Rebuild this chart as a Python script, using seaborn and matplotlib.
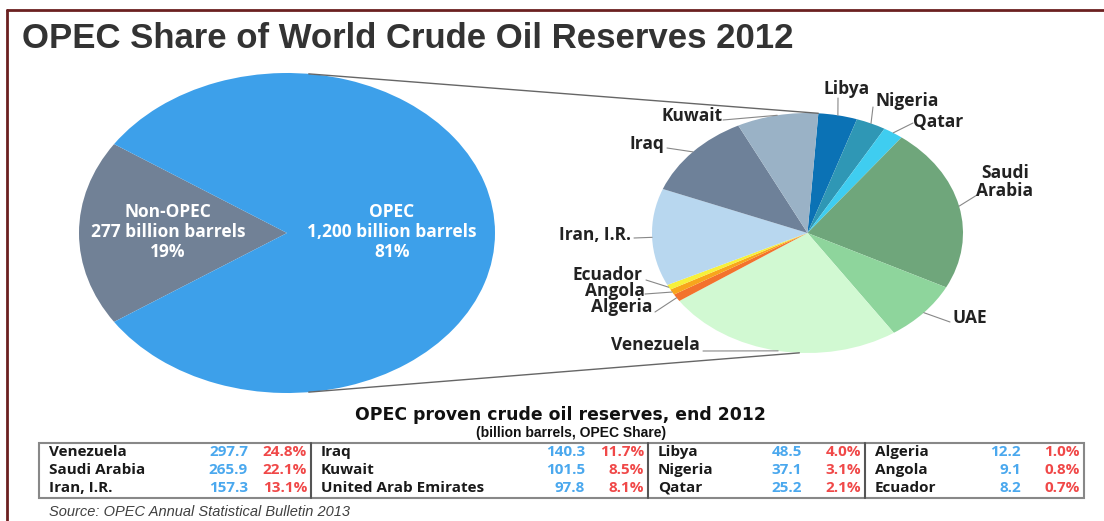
import matplotlib
matplotlib.use("Agg")
import numpy as np
import matplotlib.pyplot as plt
from matplotlib.patches import Rectangle
import seaborn as sns

# ---- data -------------------------------------------------------------
world_labels = ["Non-OPEC", "OPEC"]
world_reserves = [277, 1200]          # billion barrels
world_shares = [19, 81]               # %

countries = ["Venezuela", "Saudi Arabia", "Iran, I.R.",
             "Iraq", "Kuwait", "United Arab Emirates",
             "Libya", "Nigeria", "Qatar",
             "Algeria", "Angola", "Ecuador"]
reserves = [297.7, 265.9, 157.3, 140.3, 101.5, 97.8, 48.5, 37.1, 25.2, 12.2, 9.1, 8.2]
shares = [24.8, 22.1, 13.1, 11.7, 8.5, 8.1, 4.0, 3.1, 2.1, 1.0, 0.8, 0.7]

# clockwise order of the slices in the right pie, starting at the top
pie_order = ["Libya", "Nigeria", "Qatar", "Saudi Arabia", "United Arab Emirates",
             "Venezuela", "Algeria", "Angola", "Ecuador", "Iran, I.R.", "Iraq", "Kuwait"]
pie_names = {"Saudi Arabia": "Saudi\nArabia", "United Arab Emirates": "UAE"}

slice_colors = {
    "Libya": "#0b72b5", "Nigeria": "#2f97b5", "Qatar": "#3fcdf0",
    "Saudi Arabia": "#6fa67b", "United Arab Emirates": "#8ed59c",
    "Venezuela": "#d1f9d2", "Algeria": "#f3722c", "Angola": "#f8a51c",
    "Ecuador": "#f7f03a", "Iran, I.R.": "#b8d7ef", "Iraq": "#6e8199",
    "Kuwait": "#9ab2c6",
}
world_colors = ["#718196", "#3da0ea"]

# label layout (pixels): text x, text y, ha, leader start x, leader start y
label_layout = {
    "Libya": (847, 89, "center", 838, 98),
    "Nigeria": (907, 101, "center", 873, 107),
    "Qatar": (938, 122, "center", 913, 123),
    "Saudi Arabia": (1005, 182, "center", 977, 195),
    "United Arab Emirates": (970, 318, "center", 950, 322),
    "Venezuela": (655, 345, "center", 703, 351),
    "Algeria": (622, 307, "center", 655, 312),
    "Angola": (615, 291, "center", 645, 294),
    "Ecuador": (608, 275, "center", 646, 280),
    "Iran, I.R.": (631, 235, "right", 634, 238),
    "Iraq": (647, 144, "center", 667, 148),
    "Kuwait": (692, 116, "center", 723, 120),
}

# ---- figure ------------------------------------------------------------
sns.set_style("white")
plt.rcParams["font.family"] = ["Open Sans", "DejaVu Sans"]

W, H = 1104, 521
fig = plt.figure(figsize=(W / 100, H / 100), dpi=100)


def px_axes(cx, cy, rx, ry, z=1):
    return fig.add_axes([(cx - rx) / W, 1 - (cy + ry) / H, 2 * rx / W, 2 * ry / H], zorder=z)


# left pie (world)
L = dict(cx=287, cy=233, rx=208, ry=160)
ax1 = px_axes(L["cx"], L["cy"], L["rx"], L["ry"])
non_frac = world_reserves[0] / sum(world_reserves)
ax1.pie(world_reserves, colors=world_colors, startangle=180 - non_frac * 180,
        wedgeprops=dict(linewidth=0))
ax1.set_aspect("auto")
ax1.set_xlim(-1, 1)
ax1.set_ylim(-1, 1)
ax1.axis("off")

# right pie (OPEC members)
R = dict(cx=807.5, cy=233, rx=155.5, ry=120)
ax2 = px_axes(R["cx"], R["cy"], R["rx"], R["ry"])
pie_vals = [reserves[countries.index(c)] for c in pie_order]
wedges, _ = ax2.pie(pie_vals, colors=[slice_colors[c] for c in pie_order],
                    startangle=86, counterclock=False,
                    wedgeprops=dict(linewidth=0))
ax2.set_aspect("auto")
ax2.set_xlim(-1, 1)
ax2.set_ylim(-1, 1)
ax2.axis("off")

# overlay in pixel coordinates
ax0 = fig.add_axes([0, 0, 1, 1], zorder=5)
ax0.patch.set_alpha(0)
ax0.set_xlim(0, W)
ax0.set_ylim(H, 0)
ax0.axis("off")

# frame
frame_col = "#6b2020"
ax0.plot([7, W], [10, 10], color=frame_col, lw=2)
ax0.plot([7, 7], [10, H], color=frame_col, lw=2)

ax0.text(22, 39, "OPEC Share of World Crude Oil Reserves 2012", fontsize=25,
         fontweight="bold", color="#333333", family="Liberation Sans",
         ha="left", va="center")


def ell(p, ang):
    a = np.deg2rad(ang)
    return p["cx"] + p["rx"] * np.cos(a), p["cy"] - p["ry"] * np.sin(a)


# connector lines between the two pies
x0, y0 = ell(L, 84)
x1, y1 = ell(R, 86)
ax0.plot([x0, x1], [y0, y1], color="#666666", lw=1)
x0, y0 = ell(L, -84)
x1, y1 = ell(R, -93)
ax0.plot([x0, x1], [y0, y1], color="#666666", lw=1)

# left pie labels
for i, (lab, val, sh) in enumerate(zip(world_labels, world_reserves, world_shares)):
    tx = 168 if i == 0 else 392
    ax0.text(tx, 232, f"{lab}\n{val:,} billion barrels\n{sh}%", color="white",
             fontsize=12.5, fontweight="bold", ha="center", va="center",
             linespacing=1.15)

# right pie labels with leader lines
for name, w in zip(pie_order, wedges):
    mid = (w.theta1 + w.theta2) / 2
    ex, ey = ell(R, mid)
    tx, ty, ha, lx, ly = label_layout[name]
    ax0.plot([lx, ex], [ly, ey], color="#888888", lw=0.8)
    ax0.text(tx, ty, pie_names.get(name, name), fontsize=12.5, fontweight="bold",
             color="#222222", ha=ha, va="center", linespacing=1.0)

# table
ax0.text(560, 415, "OPEC proven crude oil reserves, end 2012", fontsize=12.4,
         fontweight="bold", family="DejaVu Sans", ha="center", va="center", color="#111111")
ax0.text(571, 433, "(billion barrels, OPEC Share)", fontsize=10,
         fontweight="bold", family="Liberation Sans", ha="center", va="center",
         color="#111111")

edges = [39, 311, 648, 865, 1084]
top, bot = 443, 498
ax0.add_patch(Rectangle((edges[0], top), edges[-1] - edges[0], bot - top,
                        fill=False, edgecolor="#888888", lw=1.5))
for xs in edges[1:-1]:
    ax0.plot([xs, xs], [top, bot], color="#555555", lw=1.5)

rows_y = [452, 470, 488]
for k, (c, v, s) in enumerate(zip(countries, reserves, shares)):
    g, r = divmod(k, 3)
    left, right = edges[g], edges[g + 1]
    y = rows_y[r]
    ax0.text(left + 10, y, c, fontsize=11, fontweight="bold", color="#1a1a1a",
             ha="left", va="center")
    ax0.text(right - 63, y, f"{v:.1f}", fontsize=11, fontweight="bold",
             color="#4aa8ee", ha="right", va="center")
    ax0.text(right - 4, y, f"{s:.1f}%", fontsize=11, fontweight="bold",
             color="#f04848", ha="right", va="center")

ax0.text(49, 512, "Source: OPEC Annual Statistical Bulletin 2013", fontsize=10.5,
         style="italic", family="Liberation Sans", color="#404040",
         ha="left", va="center")

fig.savefig("out.png", dpi=100)
